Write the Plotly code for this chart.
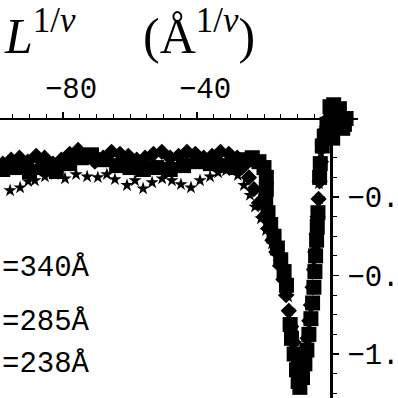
import plotly.graph_objects as go

# ---- data ----
sq_x = [-98, -94, -90, -86, -82, -78, -74.5, -71.5, -68, -64, -60, -56, -52, -48, -44, -40, -36, -32, -28.5,
        -25.5, -23.5, -21.5, -20, -19.3, -19.3, -19.5, -18.8, -18, -17, -16, -15, -14, -13.3, -12.2, -11.8,
        -11, -10.3, -9.8, -9.3, -8.5, -7.8, -7.2, -6.6, -6, -5.5, -5.1, -4.8, -4.6, -4.3, -4.1, -3.9, -3.4,
        -3.2, -2.6, -2, -1.2, 0, 1.5, 3, 4, 0.8,
        -0.3, 2.5, 4.5, 3.5, 0.5, -1.0, 1.8]
sq_y = [-0.26, -0.25, -0.27, -0.25, -0.27, -0.23, -0.2, -0.185, -0.21, -0.24, -0.25, -0.26, -0.25, -0.26, -0.24,
        -0.22, -0.23, -0.24, -0.25, -0.21, -0.2, -0.22, -0.25, -0.3, -0.36, -0.42, -0.48, -0.54, -0.6, -0.66,
        -0.72, -0.78, -0.85, -1.05, -1.12, -1.2, -1.28, -1.34, -1.37, -1.32, -1.25, -1.18, -1.1, -1.02, -0.94,
        -0.86, -0.78, -0.7, -0.62, -0.55, -0.48, -0.3, -0.23, -0.14, -0.09, -0.03, 0.0, 0.02, 0.0, -0.03, 0.07,
        0.06, 0.05, 0.0, -0.05, -0.1, -0.08, -0.03]

di_x = [-98, -95.5, -93, -90.5, -88, -85.5, -83, -80.5, -78, -75.5, -73, -70.5, -68, -65.5, -63, -60.5, -58,
        -55.5, -53, -50.5, -48, -45.5, -43, -40.5, -38, -35.5, -33, -30.5, -28, -26, -24.5, -23, -21.5, -20,
        -18.7, -17.5, -16.3, -15.2, -14.2, -13.4, -12.6, -11.9, -11.2, -10.6, -10.1, -9.6, -8.8, -8.1, -7.5,
        -7, -6.5, -6, -5.5, -5.1, -4.7, -4.3, -4, -3.7, -3.4, -3, -2.5, -1.8, -0.8, 0.5, 2, 3.5, 1, 3]
di_y = [-0.23, -0.21, -0.2, -0.22, -0.19, -0.2, -0.23, -0.21, -0.18, -0.16, -0.19, -0.22, -0.2, -0.17, -0.18,
        -0.19, -0.21, -0.2, -0.18, -0.17, -0.2, -0.19, -0.17, -0.18, -0.2, -0.19, -0.17, -0.18, -0.2, -0.24,
        -0.3, -0.36, -0.43, -0.5, -0.56, -0.62, -0.68, -0.75, -0.82, -0.9, -0.98, -1.06, -1.14, -1.22, -1.3,
        -1.36, -1.33, -1.27, -1.2, -1.12, -1.03, -0.95, -0.86, -0.77, -0.68, -0.59, -0.5, -0.41, -0.32, -0.22,
        -0.13, -0.06, 0.0, 0.03, 0.02, 0.0, 0.05, -0.02]

st_x = [-95.8, -92.8, -90.4, -88.4, -85.4, -82.4, -79.4, -76.1, -72.8, -69.6, -66.9, -64.5, -60.9, -58.5,
        -56.1, -53.4, -50.4, -47.5, -44.8, -41.8, -39.1, -36.1, -33.7, -31.3, -29.3, -27.8, -26, -24.2, -22.7,
        -20.9, -19.4, -17.6, -16.1, -14.6, -13.4, -12.8, -12.5, -11.9, -11.3, -10.7, -10.1, -9.25, -8.4, -7.5,
        -6.9, -6.3, -5.7, -5.4, -5.1, -4.8, -4.5, -4.2, -3.9, -3.9, -3.6, -3.6, -3.3, -3, -2.4, -1.8, -0.9,
        0.3, 1.8, 3.3]
st_y = [-0.367, -0.352, -0.32, -0.316, -0.296, -0.285, -0.306, -0.285, -0.296, -0.3, -0.285, -0.31, -0.34,
        -0.316, -0.357, -0.326, -0.306, -0.316, -0.336, -0.352, -0.316, -0.296, -0.275, -0.265, -0.255, -0.29,
        -0.34, -0.39, -0.45, -0.51, -0.57, -0.637, -0.7, -0.764, -0.836, -0.907, -0.978, -1.055, -1.14, -1.22,
        -1.3, -1.345, -1.31, -1.243, -1.17, -1.096, -1.02, -0.943, -0.866, -0.785, -0.708, -0.637, -0.56,
        -0.484, -0.408, -0.331, -0.255, -0.178, -0.112, -0.051, 0.0, 0.03, 0.04, 0.01]

x_ticks = [-80, -40]
y_ticks = [-0.4, -0.8, -1.2]
series_labels = ["=340Å", "=285Å", "=238Å"]

# ---- figure ----
W = H = 398
fig = go.Figure()
common = dict(mode="markers", cliponaxis=False, showlegend=False, hoverinfo="skip")
fig.add_trace(go.Scatter(x=sq_x, y=sq_y, marker=dict(symbol="square", size=15, color="black",
                                                     line=dict(width=0)), **common))
fig.add_trace(go.Scatter(x=di_x, y=di_y, marker=dict(symbol="diamond", size=12.5, color="black",
                                                     line=dict(width=0)), **common))
fig.add_trace(go.Scatter(x=st_x, y=st_y, marker=dict(symbol="star", size=10, color="black",
                                                     line=dict(width=0)), **common))

x0_px, y0_px = 331, 118.5
px_per_x, px_per_y = 3.35, 196.25
x_right_px, y_top_px = 358, 100

mono = dict(family="Liberation Mono", size=29, color="black")

fig.update_layout(
    width=W, height=H, autosize=False,
    margin=dict(l=0, r=0, t=0, b=0, pad=0),
    paper_bgcolor="white", plot_bgcolor="white",
    xaxis=dict(domain=[0, x_right_px / W],
               range=[-x0_px / px_per_x, (x_right_px - x0_px) / px_per_x],
               anchor="free", position=(H - y0_px) / H, side="top", automargin=False,
               showline=True, linecolor="black", linewidth=2.5,
               showgrid=False, zeroline=False,
               tickmode="array", tickvals=x_ticks, ticks="outside", ticklen=6, tickwidth=1.2,
               tickcolor="black", tickfont=mono, ticklabelshift=8, ticklabelstandoff=2,
               minor=dict(tickmode="linear", tick0=0, dtick=5, ticks="outside", ticklen=4,
                          tickwidth=1, tickcolor="black", showgrid=False)),
    yaxis=dict(domain=[0, (H - y_top_px) / H],
               range=[-(H - y0_px) / px_per_y, (y0_px - y_top_px) / px_per_y],
               anchor="free", position=x0_px / W, side="right", automargin=False,
               showline=True, linecolor="black", linewidth=2.5,
               showgrid=False, zeroline=False,
               tickmode="array", tickvals=y_ticks, ticks="outside", ticklen=6, tickwidth=1.2,
               tickcolor="black", tickfont=mono, ticklabelstandoff=3, tickformat=".1f",
               minor=dict(tickmode="linear", tick0=0, dtick=0.1, ticks="outside", ticklen=4,
                          tickwidth=1, tickcolor="black", showgrid=False)),
)

serif = dict(family="Liberation Serif", size=50, color="black")
fig.add_annotation(text="<i>L</i><sup>1/<i>ν</i></sup>", xref="paper", yref="paper",
                   x=2 / W, y=1 - 66 / H, xanchor="left", yanchor="bottom",
                   showarrow=False, font=serif)
fig.add_annotation(text="(Å<sup>1/<i>ν</i></sup>)", xref="paper", yref="paper",
                   x=141 / W, y=1 - 66 / H, xanchor="left", yanchor="bottom",
                   showarrow=False, font=serif)

for lab, ypx in zip(series_labels, [268, 322, 364]):
    fig.add_annotation(text=lab, xref="paper", yref="paper", x=0, y=1 - ypx / H,
                       xanchor="left", yanchor="middle", showarrow=False, font=mono)

fig.write_html("out.html", config={"displayModeBar": False, "staticPlot": True},
               post_script="document.body.style.margin='0';document.body.style.overflow='hidden';")
